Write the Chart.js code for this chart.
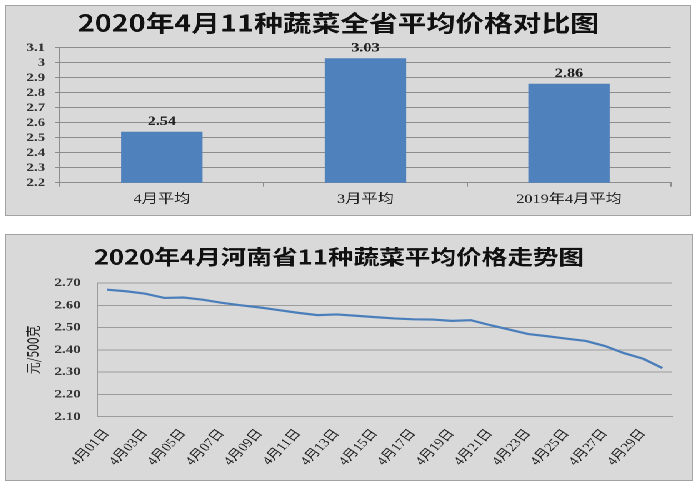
<!DOCTYPE html>
<html><head><meta charset="utf-8">
<script src="https://cdn.jsdelivr.net/npm/chart.js@4.4.1/dist/chart.umd.min.js"></script>
<style>
html,body{margin:0;padding:0;background:#fff;width:697px;height:489px;overflow:hidden;}
.panel{position:absolute;transform:scaleX(1.25);transform-origin:0 0;background:#d9d9d9;}
.panel canvas{position:absolute;left:0;top:0;}
.frame{position:absolute;border:1px solid #a3a3a3;box-sizing:border-box;pointer-events:none;}
</style></head>
<body>
<div class="panel" style="left:6px;top:5px;width:547px;height:211px;"><canvas id="c1" width="547" height="211"></canvas></div>
<div class="frame" style="left:5px;top:5px;width:686px;height:211px;"></div>
<div class="panel" style="left:6px;top:234px;width:549px;height:246px;"><canvas id="c2" width="549" height="246"></canvas></div>
<div class="frame" style="left:5px;top:234px;width:688px;height:247px;"></div>
<script>
// ---- data ----
const barTitle = '2020年4月11种蔬菜全省平均价格对比图';
const barCategories = ['4月平均', '3月平均', '2019年4月平均'];
const barValues = [2.54, 3.03, 2.86];
const barTickLabels = ['2.2','2.3','2.4','2.5','2.6','2.7','2.8','2.9','3','3.1'];

const lineTitle = '2020年4月河南省11种蔬菜平均价格走势图';
const yUnit = '元/500克';
const dayLabels = ['4月01日','4月02日','4月03日','4月04日','4月05日','4月06日','4月07日','4月08日','4月09日','4月10日',
  '4月11日','4月12日','4月13日','4月14日','4月15日','4月16日','4月17日','4月18日','4月19日','4月20日',
  '4月21日','4月22日','4月23日','4月24日','4月25日','4月26日','4月27日','4月28日','4月29日','4月30日'];
const priceValues = [2.670, 2.663, 2.652, 2.633, 2.635, 2.625, 2.611, 2.600, 2.590, 2.578,
  2.566, 2.556, 2.559, 2.553, 2.547, 2.541, 2.537, 2.536, 2.530, 2.533,
  2.511, 2.491, 2.471, 2.461, 2.450, 2.440, 2.417, 2.385, 2.360, 2.318];
const priceTickLabels = ['2.10','2.20','2.30','2.40','2.50','2.60','2.70'];

const serif = '"Liberation Serif", "Noto Sans CJK SC"';
const cjk = '"Noto Sans CJK SC"';

const barValueLabels = {
  id: 'barValueLabels',
  afterDatasetsDraw(chart) {
    const ctx = chart.ctx;
    const meta = chart.getDatasetMeta(0);
    ctx.save();
    ctx.font = 'bold 13px ' + serif;
    ctx.fillStyle = '#222';
    ctx.textAlign = 'center';
    ctx.textBaseline = 'middle';
    meta.data.forEach((el, i) => {
      ctx.fillText(barValues[i].toFixed(2), el.x, el.y - 10);
    });
    ctx.restore();
  }
};

new Chart(document.getElementById('c1'), {
  type: 'bar',
  data: {
    labels: barCategories,
    datasets: [{
      data: barValues,
      backgroundColor: '#4f81bd',
      borderWidth: 0,
      barPercentage: 0.4,
      categoryPercentage: 1.0
    }]
  },
  options: {
    responsive: false,
    animation: false,
    devicePixelRatio: 2,
    layout: { padding: { left: 0, right: 15.2, top: 0, bottom: 0 } },
    plugins: {
      legend: { display: false },
      tooltip: { enabled: false },
      title: {
        display: true, text: barTitle, color: '#111',
        font: { family: cjk, size: 23, weight: 'bold' },
        padding: { top: 4.2, bottom: 10.9 }
      }
    },
    scales: {
      x: {
        grid: { display: true, drawOnChartArea: false, drawTicks: true, tickLength: 4, color: '#8c8c8c', offset: true },
        border: { color: '#8c8c8c' },
        ticks: { font: { family: serif, size: 13 }, color: '#222', padding: 5, maxRotation: 0 },
        afterFit(s) { s.height = 33.3; }
      },
      y: {
        min: 2.2, max: 3.1,
        ticks: {
          stepSize: 0.1, autoSkip: false,
          font: { family: serif, size: 12, weight: 'bold' }, color: '#333', padding: 8,
          callback: (v) => barTickLabels[Math.round((v - 2.2) * 10)]
        },
        grid: { color: '#8c8c8c', tickLength: 4 },
        border: { color: '#8c8c8c' },
        afterFit(s) { s.width = 43.2; }
      }
    }
  },
  plugins: [barValueLabels]
});

new Chart(document.getElementById('c2'), {
  type: 'line',
  data: {
    labels: dayLabels,
    datasets: [{
      data: priceValues,
      borderColor: '#4a7ebb',
      borderWidth: 2.2,
      pointRadius: 0,
      tension: 0,
      fill: false
    }]
  },
  options: {
    responsive: false,
    animation: false,
    devicePixelRatio: 2,
    layout: { padding: { left: 0, right: 16.2, top: 0, bottom: 0 } },
    plugins: {
      legend: { display: false },
      tooltip: { enabled: false },
      title: {
        display: true, text: lineTitle, color: '#111',
        font: { family: cjk, size: 20.5, weight: 'bold' },
        padding: { top: 10.4, bottom: 14 }
      }
    },
    scales: {
      x: {
        offset: true,
        grid: { display: false },
        border: { color: '#9c9c9c' },
        ticks: {
          autoSkip: false, minRotation: 51, maxRotation: 51,
          font: { family: serif, size: 12 }, color: '#222', padding: 2,
          callback: (v, i) => (i % 2 === 0 ? dayLabels[i] : '')
        },
        afterFit(s) { s.height = 63.3; }
      },
      y: {
        min: 2.1, max: 2.7,
        ticks: {
          stepSize: 0.1, autoSkip: false,
          font: { family: serif, size: 12, weight: 'bold' }, color: '#333', padding: 13.2,
          callback: (v) => priceTickLabels[Math.round((v - 2.1) * 10)]
        },
        grid: { color: '#9c9c9c', drawTicks: false },
        border: { color: '#9c9c9c' },
        title: {
          display: true, text: yUnit, color: '#222',
          font: { family: cjk, size: 12 },
          padding: { top: 14.4, bottom: 0 }
        },
        afterFit(s) { s.width = 73; }
      }
    }
  }
});
</script>
</body></html>
